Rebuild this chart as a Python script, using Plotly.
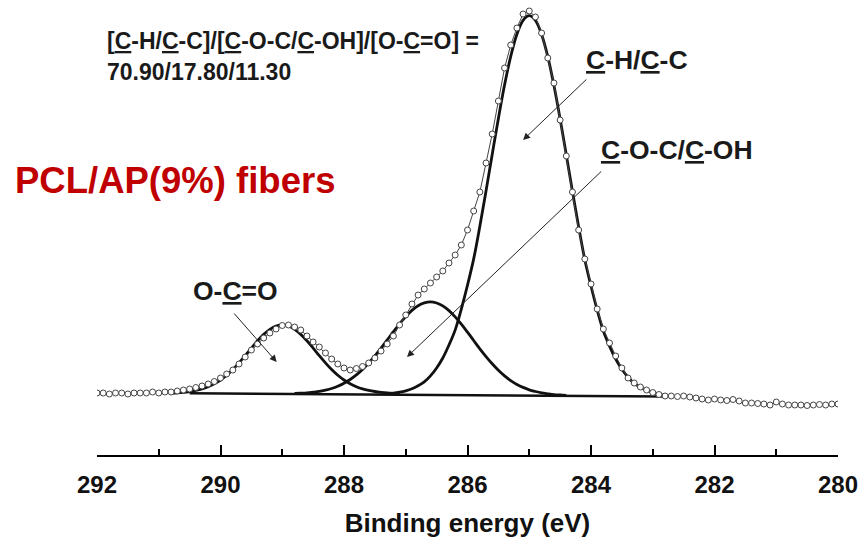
import plotly.graph_objects as go

# ---- measured spectrum (C1s), binding energy in eV, intensity in counts ----
energy = [292.0, 291.9, 291.8, 291.7, 291.6, 291.5, 291.4, 291.3, 291.2, 291.1,
          291.0, 290.9, 290.8, 290.7, 290.6, 290.5, 290.4, 290.3, 290.2, 290.1,
          290.0, 289.9, 289.8, 289.7, 289.6, 289.5, 289.4, 289.3, 289.2, 289.1,
          289.0, 288.9, 288.8, 288.7, 288.6, 288.5, 288.4, 288.3, 288.2, 288.1,
          288.0, 287.9, 287.8, 287.7, 287.6, 287.5, 287.4, 287.3, 287.2, 287.1,
          287.0, 286.9, 286.8, 286.7, 286.6, 286.5, 286.4, 286.3, 286.2, 286.1,
          286.0, 285.9, 285.8, 285.7, 285.6, 285.5, 285.4, 285.3, 285.2, 285.1,
          285.0, 284.9, 284.8, 284.7, 284.6, 284.5, 284.4, 284.3, 284.2, 284.1,
          284.0, 283.9, 283.8, 283.7, 283.6, 283.5, 283.4, 283.3, 283.2, 283.1,
          283.0, 282.9, 282.8, 282.7, 282.6, 282.5, 282.4, 282.3, 282.2, 282.1,
          282.0, 281.9, 281.8, 281.7, 281.6, 281.5, 281.4, 281.3, 281.2, 281.1,
          281.0, 280.9, 280.8, 280.7, 280.6, 280.5, 280.4, 280.3, 280.2, 280.1,
          280.0]
intensity = [6200, 6200, 6100, 6200, 6200, 6100, 6200, 6200, 6200, 6300,
             6200, 6300, 6300, 6400, 6500, 6600, 6750, 6900, 7100, 7350,
             7700, 8100, 8500, 9100, 9800, 10500, 11100, 11700, 12200, 12600,
             12950, 13000, 12800, 12500, 11900, 11300, 10800, 10200, 9600, 9100,
             8700, 8500, 8650, 8850, 9200, 9700, 10400, 11100, 11900, 13000,
             14000, 15100, 16000, 16600, 17200, 17800, 18400, 19200, 20000, 21000,
             22500, 24400, 26300, 29200, 32100, 35400, 38700, 41000, 42700, 44100,
             44400, 43800, 42200, 39700, 37200, 33500, 29900, 26300, 22500, 19600,
             17100, 14600, 12600, 11200, 9900, 8700, 7700, 7200, 6800, 6500,
             6250, 6050, 5900, 5900, 5850, 5900, 5800, 5700, 5600, 5500,
             5600, 5500, 5450, 5550, 5400, 5200, 5200, 5150, 5100, 5000,
             5300, 5100, 5000, 5000, 5000, 4950, 5000, 5050, 5000, 5100,
             5100]

# ---- background of the fit ----
baseline_energy = [290.5, 282.8]
baseline_value = [6170, 5850]

# ---- fitted component O-C=O ----
occo_energy = [290.8, 290.7, 290.6, 290.5, 290.4, 290.3, 290.2, 290.1, 290.0, 289.9,
               289.8, 289.7, 289.6, 289.5, 289.4, 289.3, 289.2, 289.1, 289.0, 288.9,
               288.8, 288.7, 288.6, 288.5, 288.4, 288.3, 288.2, 288.1, 288.0, 287.9,
               287.8, 287.7, 287.6, 287.5, 287.4, 287.3, 287.2, 287.1]
occo_value = [6170, 6210, 6270, 6350, 6460, 6610, 6830, 7120, 7500, 7970,
              8540, 9210, 9930, 10690, 11420, 12060, 12570, 12900, 13010, 12900,
              12570, 12060, 11420, 10690, 9930, 9210, 8540, 7970, 7500, 7120,
              6830, 6610, 6460, 6350, 6270, 6210, 6170, 6060]

# ---- fitted component C-O-C / C-OH ----
coc_energy = [288.8, 288.7, 288.6, 288.5, 288.4, 288.3, 288.2, 288.1, 288.0, 287.9,
              287.8, 287.7, 287.6, 287.5, 287.4, 287.3, 287.2, 287.1, 287.0, 286.9,
              286.8, 286.7, 286.6, 286.5, 286.4, 286.3, 286.2, 286.1, 286.0, 285.9,
              285.8, 285.7, 285.6, 285.5, 285.4, 285.3, 285.2, 285.1, 285.0, 284.9,
              284.8, 284.7, 284.6, 284.5, 284.4]
coc_value = [6150, 6175, 6210, 6280, 6360, 6490, 6650, 6880, 7180, 7550,
             8010, 8560, 9200, 9920, 10690, 11510, 12330, 13120, 13840, 14460,
             14930, 15210, 15310, 15200, 14910, 14440, 13810, 13080, 12280, 11450,
             10620, 9840, 9120, 8470, 7910, 7440, 7060, 6760, 6520, 6350,
             6210, 6120, 6045, 6000, 5970]

# ---- fitted component C-H / C-C ----
chcc_energy = [287.3, 287.2, 287.1, 287.0, 286.9, 286.8, 286.7, 286.6, 286.5, 286.4,
               286.3, 286.2, 286.1, 286.0, 285.9, 285.8, 285.7, 285.6, 285.5, 285.4,
               285.3, 285.2, 285.1, 285.0, 284.9, 284.8, 284.7, 284.6, 284.5, 284.4,
               284.3, 284.2, 284.1, 284.0, 283.9, 283.8, 283.7, 283.6, 283.5, 283.4,
               283.3, 283.2, 283.1, 283.0, 282.9, 282.8]
chcc_value = [6120, 6180, 6280, 6420, 6620, 6920, 7310, 7910, 8700, 9700,
              11000, 12490, 14590, 16980, 19610, 22870, 26410, 30060, 33650, 36990,
              39860, 42070, 43470, 43940, 43460, 42050, 39840, 36960, 33610, 30010,
              26350, 22810, 19530, 16900, 14500, 12390, 10890, 9580, 8580, 7780,
              7170, 6770, 6460, 6260, 6100, 5950]

# tick values of the binding energy axis
tick_values = [292, 290, 288, 286, 284, 282, 280]
tick_text = ["292", "290", "288", "286", "284", "282", "280"]

# arrow anchor points (binding energy, intensity)
arrow_occo = dict(tip=(289.09, 9300), tail=(289.80, 14300))
arrow_coc = dict(tip=(286.98, 9800), tail=(283.81, 28500))
arrow_chcc = dict(tip=(285.10, 31500), tail=(284.05, 37700))

SANS = "Liberation Sans, Arial, Helvetica, sans-serif"

fig = go.Figure()

fig.add_trace(go.Scatter(x=baseline_energy, y=baseline_value, mode="lines",
                         line=dict(color="#111111", width=2.5), hoverinfo="skip"))
for ex, vy in [(occo_energy, occo_value), (coc_energy, coc_value), (chcc_energy, chcc_value)]:
    fig.add_trace(go.Scatter(x=ex, y=vy, mode="lines", line_shape="spline",
                             line=dict(color="#111111", width=2.8), hoverinfo="skip"))

fig.add_trace(go.Scatter(x=energy, y=intensity, mode="lines+markers",
                         line=dict(color="#444444", width=1),
                         marker=dict(symbol="circle", size=6, color="white",
                                     line=dict(color="#444444", width=1))))

annotations = []
for a in (arrow_occo, arrow_coc, arrow_chcc):
    annotations.append(dict(x=a["tip"][0], y=a["tip"][1], ax=a["tail"][0], ay=a["tail"][1],
                            xref="x", yref="y", axref="x", ayref="y", text="",
                            showarrow=True, arrowhead=2, arrowsize=1.4, arrowwidth=1,
                            arrowcolor="#222222"))

def px2paper(px, py):
    return (px - 97) / 741.0, (455 - py) / 455.0

def label(text, px, py, size, color="#1a1a1a", xanchor="center"):
    xp, yp = px2paper(px, py)
    return dict(text=text, x=xp, y=yp, xref="paper", yref="paper", showarrow=False,
                xanchor=xanchor, yanchor="middle",
                font=dict(family=SANS, size=size, color=color))

annotations.append(label("<b>[<u>C</u>-H/<u>C</u>-C]/[<u>C</u>-O-C/<u>C</u>-OH]/[O-<u>C</u>=O] =</b>",
                         105, 41, 23, xanchor="left"))
annotations.append(label("<b>70.90/17.80/11.30</b>", 105, 72, 23, xanchor="left"))
annotations.append(label("<b>PCL/AP(9%) fibers</b>", 13, 180, 36.5, color="#C00000", xanchor="left"))
annotations.append(label("<b><u>C</u>-H/<u>C</u>-C</b>", 637, 60, 26.5))
annotations.append(label("<b><u>C</u>-O-C/<u>C</u>-OH</b>", 677, 150, 26.5))
annotations.append(label("<b>O-<u>C</u>=O</b>", 235, 291, 26.5))

fig.update_layout(
    width=861, height=545,
    margin=dict(l=97, r=23, t=0, b=90),
    paper_bgcolor="white", plot_bgcolor="white",
    showlegend=False,
    annotations=annotations,
    xaxis=dict(range=[292, 280], showline=True, linecolor="black", linewidth=2,
               ticks="inside", ticklen=10, tickwidth=2, tickcolor="black",
               tickvals=tick_values, ticktext=tick_text, showgrid=False, zeroline=False,
               minor=dict(dtick=1, ticks="inside", ticklen=6, tickwidth=2, tickcolor="black"),
               tickfont=dict(family=SANS, size=24, color="#111111", weight="bold"),
               ticklabelstandoff=7,
               title=dict(text="<b>Binding energy (eV)</b>", standoff=17,
                          font=dict(family=SANS, size=26, color="#111111"))),
    yaxis=dict(range=[0, 45500], visible=False),
)

fig.write_html("out.html")
